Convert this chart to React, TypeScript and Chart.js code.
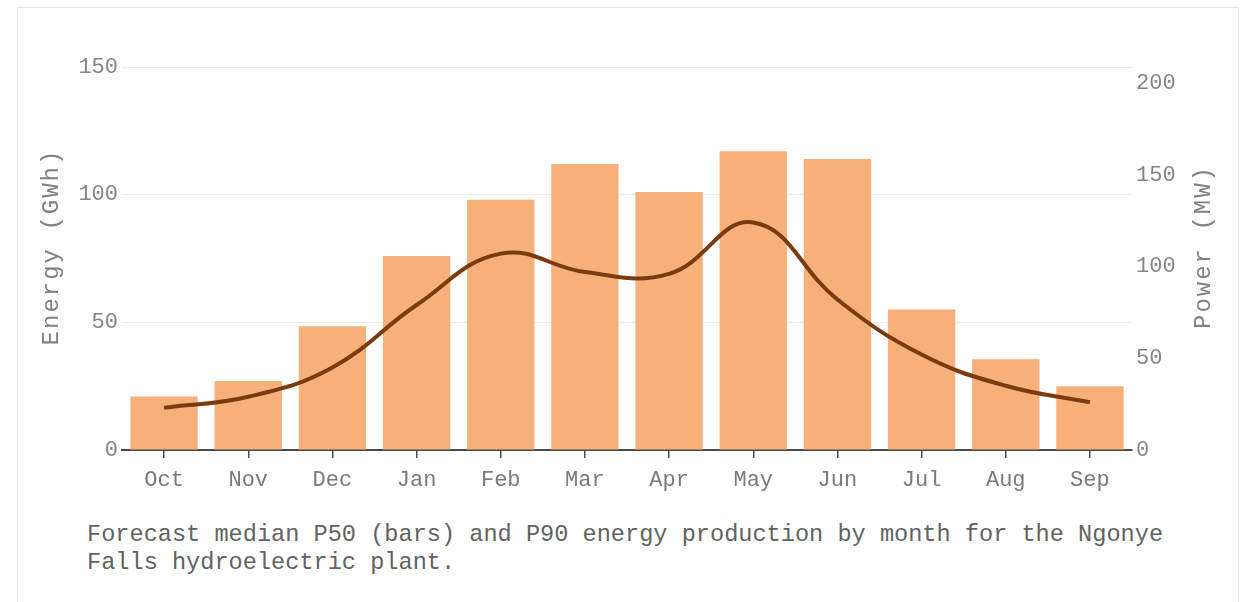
import { useEffect, useRef } from 'react';
import { Chart, registerables } from 'chart.js';

Chart.register(...registerables);

const months = ['Oct', 'Nov', 'Dec', 'Jan', 'Feb', 'Mar', 'Apr', 'May', 'Jun', 'Jul', 'Aug', 'Sep'];
const energyP50 = [21, 27, 48.5, 76, 98, 112, 101, 117, 114, 55, 35.5, 25];
const powerP90 = [23, 29, 45, 79, 107, 97, 96, 124, 82, 52, 35, 26];
const energyTicks = [0, 50, 100, 150];
const powerTicks = [0, 50, 100, 150, 200];
const energyTitle = 'Energy (GWh)';
const powerTitle = 'Power (MW)';
const caption1 = 'Forecast median P50 (bars) and P90 energy production by month for the Ngonye';
const caption2 = 'Falls hydroelectric plant.';

const FONT = '"Liberation Mono", "Courier New", monospace';

const axisTitles = {
  id: 'axisTitles',
  afterDraw(chart: any) {
    const { ctx } = chart;
    const drawRot = (text: string, x: number, y: number) => {
      ctx.save();
      ctx.translate(x, y);
      ctx.rotate(-Math.PI / 2);
      ctx.fillText(text, 0, 0);
      ctx.restore();
    };
    ctx.save();
    ctx.font = `24px ${FONT}`;
    ctx.fillStyle = '#808080';
    ctx.textAlign = 'center';
    ctx.textBaseline = 'middle';
    (ctx as any).letterSpacing = '2px';
    drawRot(energyTitle, 35, 240);
    drawRot(powerTitle, 1187, 240);
    ctx.restore();
  },
};

export default function App() {
  const ref = useRef<HTMLCanvasElement | null>(null);

  useEffect(() => {
    document.body.style.overflow = 'hidden';
    const canvas = ref.current;
    if (!canvas) return;
    const chart = new Chart(canvas, {
      type: 'bar',
      data: {
        labels: months,
        datasets: [
          {
            type: 'line',
            label: 'P90',
            data: powerP90,
            yAxisID: 'y1',
            borderColor: '#7b3b0e',
            borderWidth: 4,
            pointRadius: 0,
            tension: 0.42,
            fill: false,
            order: 0,
          } as any,
          {
            type: 'bar',
            label: 'P50',
            data: energyP50,
            yAxisID: 'y',
            backgroundColor: '#f8b07a',
            borderWidth: 0,
            barPercentage: 0.8,
            categoryPercentage: 1,
            order: 1,
          },
        ],
      },
      options: {
        responsive: false,
        animation: false,
        layout: { padding: { top: 60, left: 0, right: 0, bottom: 0 } },
        plugins: {
          legend: { display: false },
          tooltip: { enabled: false },
        },
        scales: {
          x: {
            offset: true,
            grid: {
              display: true,
              drawOnChartArea: false,
              drawTicks: true,
              tickLength: 8,
              color: '#4a4a4a',
              lineWidth: 1.5,
              offset: false,
            },
            border: { display: true, color: '#4a4a4a', width: 2 },
            ticks: {
              color: '#7a7a7a',
              font: { family: FONT, size: 22 },
              padding: 9,
              maxRotation: 0,
            },
            afterFit(scale: any) {
              scale.height = 67;
            },
          },
          y: {
            position: 'left',
            min: 0,
            max: 150,
            grid: { color: '#ececec', lineWidth: 1, drawTicks: false },
            border: { display: false },
            ticks: {
              color: '#858585',
              font: { family: FONT, size: 22 },
              padding: 4,
            },
            afterBuildTicks(scale: any) {
              scale.ticks = energyTicks.map((v) => ({ value: v }));
            },
            afterFit(scale: any) {
              scale.width = 105;
            },
          },
          y1: {
            position: 'right',
            min: 0,
            max: 208.7,
            grid: { display: false, drawTicks: false },
            border: { display: false },
            ticks: {
              color: '#858585',
              font: { family: FONT, size: 22 },
              padding: 4,
            },
            afterBuildTicks(scale: any) {
              scale.ticks = powerTicks.map((v) => ({ value: v }));
            },
            afterFit(scale: any) {
              scale.width = 107;
            },
          },
        },
      },
      plugins: [axisTitles],
    } as any);
    return () => chart.destroy();
  }, []);

  return (
    <div
      style={{
        position: 'fixed',
        left: 17,
        top: 7,
        width: 1222,
        height: 640,
        border: '1px solid #e2e5ea',
        boxSizing: 'border-box',
        background: '#fff',
      }}
    >
      <canvas
        ref={ref}
        width={1222}
        height={510}
        style={{ position: 'absolute', left: -1, top: -1, width: 1222, height: 510 }}
      />
      <div
        style={{
          position: 'absolute',
          left: 69,
          top: 513,
          fontFamily: FONT,
          fontSize: 23.6,
          lineHeight: '28px',
          color: '#626262',
          whiteSpace: 'pre',
        }}
      >
        {caption1}
        <br />
        {caption2}
      </div>
    </div>
  );
}
